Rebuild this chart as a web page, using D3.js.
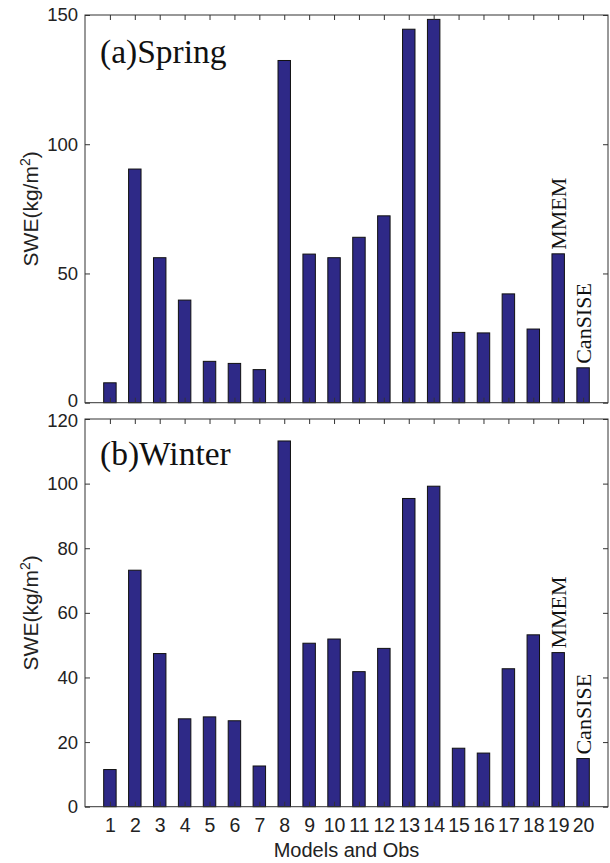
<!DOCTYPE html>
<html>
<head>
<meta charset="utf-8">
<script src="https://cdn.jsdelivr.net/npm/d3@7"></script>
<style>
  body { margin: 0; background: #fff; }
  svg { display: block; }
  .tick text { font-family: "Liberation Sans", Arial, sans-serif; font-size: 18.5px; fill: #222; }
  .tick line { stroke: #333; }
</style>
</head>
<body>
<script>
"use strict";
// models / obs on the x axis
var models = [1, 2, 3, 4, 5, 6, 7, 8, 9, 10, 11, 12, 13, 14, 15, 16, 17, 18, 19, 20];
// SWE values (kg/m2)
var springSWE = [7.7, 90.4, 56.1, 39.7, 16.0, 15.2, 12.8, 132.4, 57.5, 56.1,
                 64.0, 72.3, 144.5, 148.3, 27.2, 27.0, 42.1, 28.5, 57.6, 13.5];
var winterSWE = [11.5, 73.2, 47.4, 27.2, 27.8, 26.6, 12.6, 113.2, 50.6, 51.9,
                 41.8, 49.0, 95.4, 99.2, 18.1, 16.6, 42.7, 53.2, 47.7, 14.9];
var springTicks = [0, 50, 100, 150];
var winterTicks = [0, 20, 40, 60, 80, 100, 120];
var annotations = [{ idx: 18, text: "MMEM" }, { idx: 19, text: "CanSISE" }];

(function () {
  var width = 610, height = 863;
  var barColor = "#2e2987";
  var svg = d3.select("body").append("svg")
    .attr("width", width)
    .attr("height", height);

  var x = d3.scaleLinear().domain([0, 21]).range([85, 608]);
  var barW = (x(1) - x(0)) * 0.5;

  function drawPanel(values, ticks, yMax, top, bottom, title, titleY, showX) {
    var y = d3.scaleLinear().domain([0, yMax]).range([bottom, top]);
    var g = svg.append("g");

    // bars
    g.selectAll("rect.bar")
      .data(values)
      .enter().append("rect")
      .attr("class", "bar")
      .attr("x", function (d, i) { return x(models[i]) - barW / 2; })
      .attr("y", function (d) { return y(d); })
      .attr("width", barW)
      .attr("height", function (d) { return y(0) - y(d); })
      .attr("fill", barColor)
      .attr("stroke", "#111")
      .attr("stroke-width", 1);

    // left axis, ticks pointing in
    var left = g.append("g")
      .attr("transform", "translate(" + x(0) + ",0)")
      .call(d3.axisLeft(y).tickValues(ticks).tickSizeInner(-5).tickSizeOuter(0).tickPadding(7));
    left.select(".domain").remove();
    // the zero of the upper panel sits right on top of the 120 below; nudge both apart
    if (!showX) left.selectAll(".tick text").filter(function (d) { return d === 0; }).attr("dy", "0.2em");
    if (showX) left.selectAll(".tick text").filter(function (d) { return d === yMax; }).attr("dy", "0.4em");

    // right axis ticks
    var right = g.append("g")
      .attr("transform", "translate(" + x(21) + ",0)")
      .call(d3.axisRight(y).tickValues(ticks).tickSizeInner(-5).tickSizeOuter(0).tickFormat(""));
    right.select(".domain").remove();

    // top axis ticks
    var topAx = g.append("g")
      .attr("transform", "translate(0," + top + ")")
      .call(d3.axisTop(x).tickValues(models).tickSizeInner(-5).tickSizeOuter(0).tickFormat(""));
    topAx.select(".domain").remove();

    // bottom axis
    var botAx = g.append("g")
      .attr("transform", "translate(0," + bottom + ")")
      .call(d3.axisBottom(x).tickValues(models).tickSizeInner(-5).tickSizeOuter(0)
        .tickPadding(11).tickFormat(showX ? d3.format("d") : ""));
    botAx.select(".domain").remove();
    botAx.selectAll("text").attr("dy", "0.71em").style("font-size", "19.5px");

    // frame
    g.append("rect")
      .attr("x", x(0))
      .attr("y", top)
      .attr("width", x(21) - x(0))
      .attr("height", bottom - top)
      .attr("fill", "none")
      .attr("stroke", "#333")
      .attr("stroke-width", 1);

    // panel title
    g.append("text")
      .attr("x", 100)
      .attr("y", titleY)
      .attr("font-family", "'Liberation Serif', 'Times New Roman', serif")
      .attr("font-size", 33.5)
      .attr("fill", "#111")
      .text(title);

    // vertical labels above bars 19 and 20
    annotations.forEach(function (a) {
      var bx = x(models[a.idx]) + 8;
      var by = y(values[a.idx]) - 4;
      g.append("text")
        .attr("transform", "translate(" + bx + "," + by + ") rotate(-90)")
        .attr("font-family", "'Liberation Serif', 'Times New Roman', serif")
        .attr("font-size", 22)
        .attr("fill", "#111")
        .text(a.text);
    });

    // y label
    var lbl = g.append("text")
      .attr("transform", "translate(" + 38 + "," + ((top + bottom) / 2) + ") rotate(-90)")
      .attr("text-anchor", "middle")
      .attr("font-family", "'Liberation Sans', Arial, sans-serif")
      .attr("font-size", 21)
      .attr("fill", "#222");
    lbl.append("tspan").text("SWE(kg/m");
    lbl.append("tspan").attr("font-size", 14).attr("dy", -8).text("2");
    lbl.append("tspan").attr("dy", 8).text(")");
  }

  drawPanel(springSWE, springTicks, 150, 15, 402.7, "(a)Spring", 63, false);
  drawPanel(winterSWE, winterTicks, 120, 419, 806.7, "(b)Winter", 465, true);

  svg.append("text")
    .attr("x", (x(0) + x(21)) / 2)
    .attr("y", 857)
    .attr("text-anchor", "middle")
    .attr("font-family", "'Liberation Sans', Arial, sans-serif")
    .attr("font-size", 20)
    .attr("fill", "#222")
    .text("Models and Obs");
})();
</script>
</body>
</html>
